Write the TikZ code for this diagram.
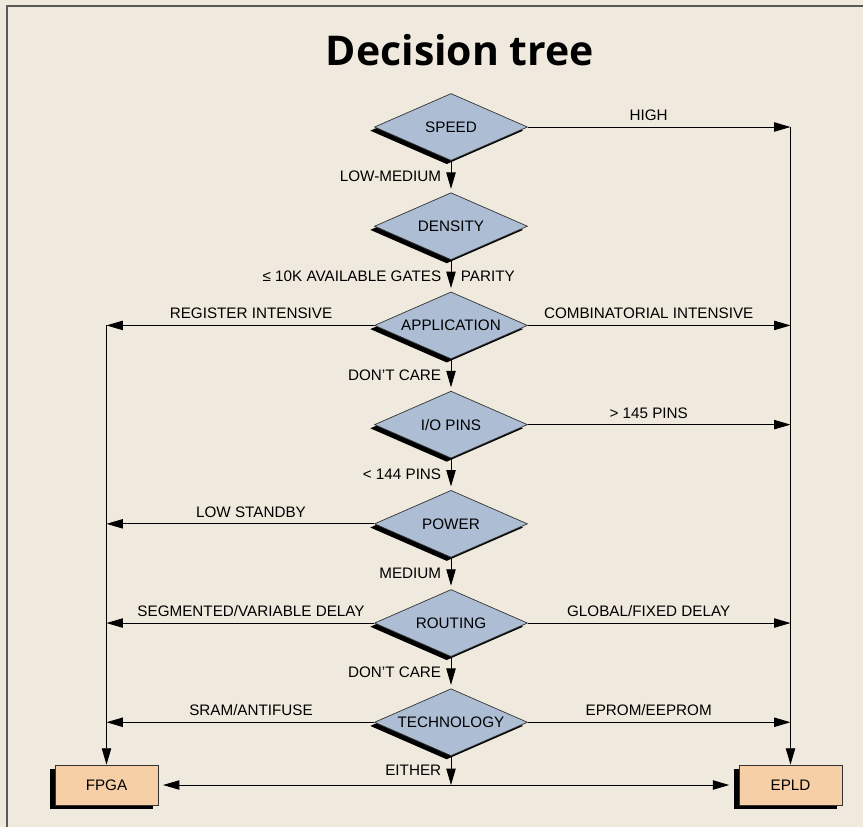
\documentclass[tikz,border=0pt]{standalone}
\usepackage{fontspec}
\setmainfont{Liberation Sans}
\newfontfamily\titlefont{Open Sans}
\usepackage{xcolor}
\usetikzlibrary{shapes.geometric, arrows.meta, positioning, shadows}
\definecolor{paper}{RGB}{239,234,221}
\definecolor{slate}{RGB}{172,189,212}
\definecolor{peach}{RGB}{246,207,166}
\tikzstyle{decision} = [diamond, draw=black!80, fill=slate, line width=0.6pt,
    minimum width=4.59cm, minimum height=2.01cm, shape aspect=2.3,
    inner sep=0pt, font=\fontsize{13}{15}\selectfont,
    drop shadow={shadow xshift=-0.13cm, shadow yshift=-0.11cm,
      fill=black, opacity=1}]
\tikzstyle{outcome}  = [rectangle, draw=black!80, fill=peach, line width=0.6pt,
    minimum width=3.09cm, minimum height=1.2cm, inner sep=0pt,
    font=\fontsize{13}{15}\selectfont,
    drop shadow={shadow xshift=-0.16cm, shadow yshift=-0.12cm,
      fill=black, opacity=1}]
\tikzstyle{choice}   = [font=\fontsize{13}{15}\selectfont, inner sep=2pt]
\tikzstyle{sidelabel} = [choice, above=3pt, pos=0.46]
\tikzstyle{arrow}    = [-{Triangle[length=14pt, width=8pt]}, line width=0.8pt]
\tikzstyle{dblarrow} = [{Triangle[length=14pt, width=8pt]}-{Triangle[length=14pt, width=8pt]},
    line width=0.8pt]

\begin{document}
\begin{tikzpicture}[x=0.03cm, y=-0.03cm, node distance=0.945cm]
  \useasboundingbox (0,0) rectangle (863,827);
  \fill[paper] (0,0) rectangle (863,827);
  \draw[line width=1pt, black!65] (7,827) -- (7,6) -- (863,6);

  \node[font=\titlefont\bfseries\fontsize{35}{40}\selectfont] (title) at (460,50) {Decision tree};

  % the chain of questions
  \node[decision] (speed) at (451,127) {SPEED};
  \node[decision, below=of speed]       (density)    {DENSITY};
  \node[decision, below=of density]     (application){APPLICATION};
  \node[decision, below=of application] (iopins)     {I/O PINS};
  \node[decision, below=of iopins]      (power)      {POWER};
  \node[decision, below=of power]       (routing)    {ROUTING};
  \node[decision, below=of routing]     (technology) {TECHNOLOGY};

  \node[outcome] (fpga) at (106.5,785) {FPGA};
  \node[outcome] (epld) at (790.5,785) {EPLD};

  % down the middle
  \draw[arrow, shorten >=3pt] (speed) -- node[choice, left=6pt] {LOW-MEDIUM} (density);
  \draw[arrow, shorten >=3pt] (density) -- node[choice, left=6pt] {≤ 10K AVAILABLE GATES}
    node[choice, right=6pt] {PARITY} (application);
  \draw[arrow, shorten >=3pt] (application) -- node[choice, left=6pt] {DON'T CARE} (iopins);
  \draw[arrow, shorten >=3pt] (iopins) -- node[choice, left=6pt] {< 144 PINS} (power);
  \draw[arrow, shorten >=3pt] (power) -- node[choice, left=6pt] {MEDIUM} (routing);
  \draw[arrow, shorten >=3pt] (routing) -- node[choice, left=6pt] {DON'T CARE} (technology);
  \draw[arrow] (technology) -- node[choice, left=6pt] {EITHER} (technology |- fpga);

  % side branches
  \draw[arrow] (speed) -- node[sidelabel] {HIGH} (speed -| epld);
  \draw[arrow] (application) -- node[sidelabel] {REGISTER INTENSIVE} (application -| fpga);
  \draw[arrow] (application) -- node[sidelabel] {COMBINATORIAL INTENSIVE} (application -| epld);
  \draw[arrow] (iopins) -- node[sidelabel] {> 145 PINS} (iopins -| epld);
  \draw[arrow] (power) -- node[sidelabel] {LOW STANDBY} (power -| fpga);
  \draw[arrow] (routing) -- node[sidelabel] {SEGMENTED/VARIABLE DELAY} (routing -| fpga);
  \draw[arrow] (routing) -- node[sidelabel] {GLOBAL/FIXED DELAY} (routing -| epld);
  \draw[arrow] (technology) -- node[sidelabel] {SRAM/ANTIFUSE} (technology -| fpga);
  \draw[arrow] (technology) -- node[sidelabel] {EPROM/EEPROM} (technology -| epld);

  % collecting lines
  \draw[arrow] (speed -| epld) -- (epld);
  \draw[arrow] (application -| fpga) -- (fpga);
  \draw[dblarrow, shorten <=4pt, shorten >=8pt] (fpga) -- (epld);
\end{tikzpicture}
\end{document}
